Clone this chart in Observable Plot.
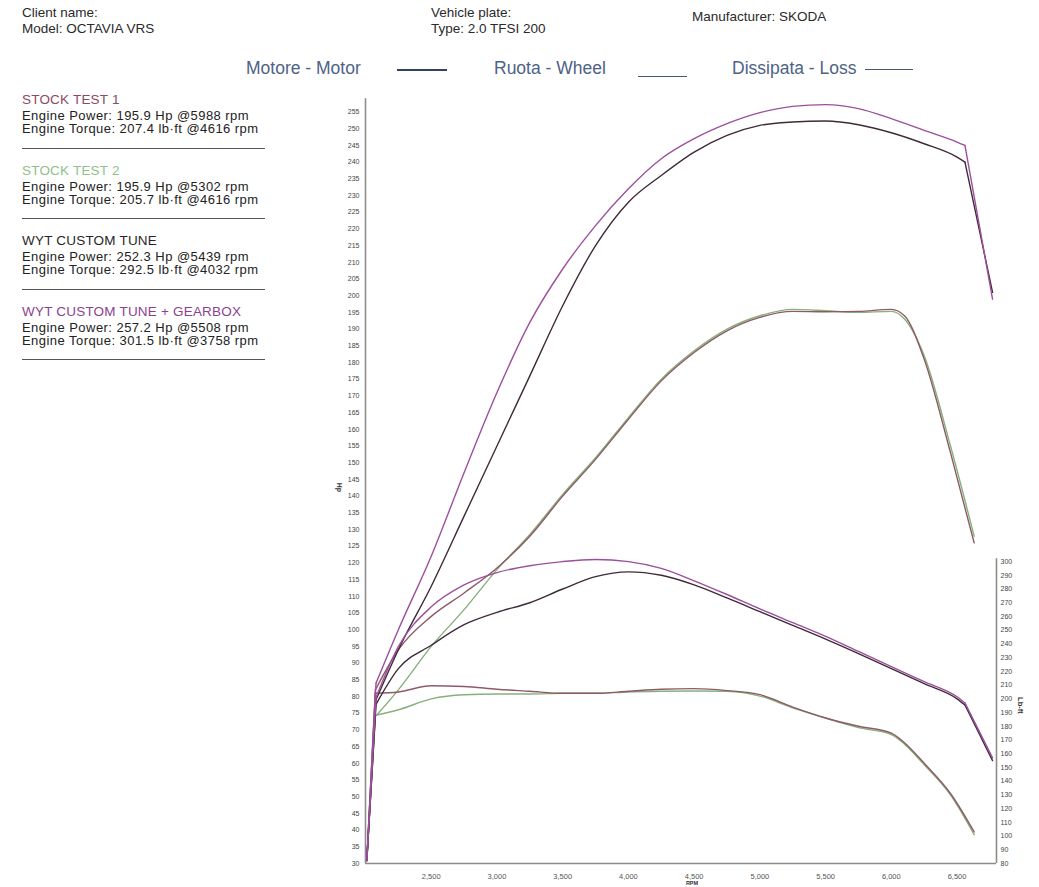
<!DOCTYPE html>
<html><head><meta charset="utf-8">
<script src="https://cdn.jsdelivr.net/npm/d3@7"></script>
<script src="https://cdn.jsdelivr.net/npm/@observablehq/plot@0.6"></script>
<style>
html,body{margin:0;padding:0;background:#fff;}
#page{position:relative;width:1039px;height:887px;overflow:hidden;font-family:"Liberation Sans",Arial,sans-serif;color:#222;background:#fff;}
.abs{position:absolute;white-space:nowrap;}
.hdr{font-size:13.5px;line-height:15.5px;color:#2a2a2a;}
.leg{font-size:17.5px;color:#4e6286;line-height:20px;}
.sample{position:absolute;height:0;}
.block{position:absolute;left:22px;width:243px;white-space:nowrap;}
.block .t{font-size:13.5px;line-height:18px;letter-spacing:0.2px;}
.block .l{font-size:13px;line-height:13.4px;letter-spacing:0.45px;color:#222;}
.block .sep{border-top:1px solid #555;margin-top:12px;}
#chart{position:absolute;left:300px;top:88px;}
</style></head>
<body>
<div id="page">
  <div class="abs hdr" style="left:22px;top:5px">Client name:<br>Model: OCTAVIA VRS</div>
  <div class="abs hdr" style="left:431px;top:5px">Vehicle plate:<br>Type: 2.0 TFSI 200</div>
  <div class="abs hdr" style="left:692px;top:9px">Manufacturer: SKODA</div>

  <div class="abs leg" style="left:246px;top:58px">Motore - Motor</div>
  <div class="sample" style="left:397px;top:69px;width:50px;border-top:2.5px solid #34406a"></div>
  <div class="abs leg" style="left:494px;top:58px">Ruota - Wheel</div>
  <div class="sample" style="left:638px;top:76px;width:49px;border-top:1.5px solid #4a5576"></div>
  <div class="abs leg" style="left:732px;top:58px">Dissipata - Loss</div>
  <div class="sample" style="left:865px;top:69px;width:48px;border-top:1.5px solid #4a5576"></div>

  <div id="panel"></div>
  <div id="chart"></div>
</div>
<script>
// ---------- run summaries (left panel) ----------
const runNames = ["STOCK TEST 1", "STOCK TEST 2", "WYT CUSTOM TUNE", "WYT CUSTOM TUNE + GEARBOX"];
const runPowerText = ["195.9 Hp @5988 rpm", "195.9 Hp @5302 rpm", "252.3 Hp @5439 rpm", "257.2 Hp @5508 rpm"];
const runTorqueText = ["207.4 lb·ft @4616 rpm", "205.7 lb·ft @4616 rpm", "292.5 lb·ft @4032 rpm", "301.5 lb·ft @3758 rpm"];
const runTitleColors = ["#8a4a62", "#8fbf8a", "#2b1f28", "#8b3f8f"];
const runLineColors = ["#8e5a66", "#86b17c", "#3f2a3a", "#9c4f9c"];

// ---------- axes ----------
const rpmTicks = [2500, 3000, 3500, 4000, 4500, 5000, 5500, 6000, 6500];
const hpTicks = [30,35,40,45,50,55,60,65,70,75,80,85,90,95,100,105,110,115,120,125,130,135,140,145,150,155,160,165,170,175,180,185,190,195,200,205,210,215,220,225,230,235,240,245,250,255];
const lbftTicks = [80,90,100,110,120,130,140,150,160,170,180,190,200,210,220,230,240,250,260,270,280,290,300];

// ---------- curves ----------
const rpmTuned = [2010, 2080, 2250, 2500, 2750, 3000, 3250, 3500, 3750, 4000, 4250, 4500, 4750, 5000, 5250, 5500, 5750, 6000, 6250, 6500, 6560, 6770];
const powerGearbox = [31, 84, 100, 122, 147, 171, 192, 208, 221, 232, 241, 247, 251.5, 254.8, 256.7, 257.2, 256, 253, 249.5, 246, 245, 199];
const powerTune    = [31, 79, 94, 113, 134, 155, 176, 197, 215, 228, 236, 243, 248, 251, 252, 252.3, 251.2, 248.8, 245.5, 241.5, 240, 201];
const torqueGearbox = [82, 201, 238, 267, 283, 292, 297, 300, 301.5, 300, 295, 286, 276, 265.5, 255.5, 245.5, 234.5, 223.5, 212.5, 201.5, 197, 157];
const torqueTune    = [82, 196, 222, 239, 254, 263, 270, 280, 289, 292.5, 290, 283, 273.5, 263.5, 253.5, 243.5, 233, 222, 211, 200, 195.5, 155];

const rpmStock = [2010, 2075, 2250, 2500, 2750, 3000, 3250, 3500, 3750, 4000, 4250, 4500, 4750, 5000, 5250, 5500, 5750, 6000, 6100, 6250, 6450, 6630];
const powerStock1 = [31, 82, 94, 104, 111, 118.5, 128, 140, 151, 163, 174.5, 183, 189.5, 193.5, 195.3, 195.2, 195.3, 195.9, 194, 181, 153, 126];
const powerStock2 = [31, 74, 82, 95, 106, 118, 128.5, 140.5, 151.5, 163.5, 175, 183.5, 190, 194, 195.9, 195.5, 195, 195.3, 193, 182, 155, 128];
const torqueStock1 = [82, 204, 205, 209.5, 209, 207, 205.5, 204, 204, 205.5, 207, 207.4, 206, 203, 194, 186, 180, 175, 168, 153, 131, 103];
const torqueStock2 = [82, 188, 192, 200, 203, 203.5, 203.5, 204, 204, 205, 205.5, 205.7, 205.5, 202, 193.5, 186, 179, 174, 167, 152, 130, 101];

// ---------- left panel ----------
const panel = document.getElementById("panel");
const blockTops = [91, 161.5, 232, 302.5];
runNames.forEach((name, i) => {
  const b = document.createElement("div");
  b.className = "block";
  b.style.top = blockTops[i] + "px";
  b.innerHTML = `<div class="t" style="color:${runTitleColors[i]}">${name}</div>
    <div class="l">Engine Power: ${runPowerText[i]}</div>
    <div class="l">Engine Torque: ${runTorqueText[i]}</div>
    <div class="sep"></div>`;
  panel.appendChild(b);
});

// ---------- dual axis mapping (lb-ft drawn on the Hp scale) ----------
const HP_PER_LBFT = (120.4 - 30) / (300 - 80);
const toHp = t => 30 + (t - 80) * HP_PER_LBFT;
const fromHp = h => 80 + (h - 30) / HP_PER_LBFT;
const table = (rpms, vals, conv) => rpms.map((r, i) => ({rpm: r, v: conv ? conv(vals[i]) : vals[i]}));

const series = [
  {data: table(rpmStock, torqueStock2, toHp), color: runLineColors[1], sharpEnd: false},
  {data: table(rpmStock, powerStock2), color: runLineColors[1], sharpEnd: false},
  {data: table(rpmStock, torqueStock1, toHp), color: runLineColors[0], sharpEnd: false},
  {data: table(rpmStock, powerStock1), color: runLineColors[0], sharpEnd: false},
  {data: table(rpmTuned, torqueTune, toHp), color: runLineColors[2], sharpEnd: true},
  {data: table(rpmTuned, powerTune), color: runLineColors[2], sharpEnd: true},
  {data: table(rpmTuned, torqueGearbox, toHp), color: runLineColors[3], sharpEnd: true},
  {data: table(rpmTuned, powerGearbox), color: runLineColors[3], sharpEnd: true}
];

// launch segment and (for tuned runs) the cut-off drop are straight; the rest is smoothed
function lineMarks(s) {
  const n = s.data.length;
  const opts = c => ({x: "rpm", y: "v", stroke: s.color, strokeWidth: 1.4, curve: c, strokeLinejoin: "round"});
  const marks = [Plot.line(s.data.slice(0, 2), opts("linear"))];
  if (s.sharpEnd) {
    marks.push(Plot.line(s.data.slice(1, n - 1), opts("monotone-x")));
    marks.push(Plot.line(s.data.slice(n - 2), opts("linear")));
  } else {
    marks.push(Plot.line(s.data.slice(1), opts("monotone-x")));
  }
  return marks;
}

const axisColor = "#8c8c8c";
const chart = Plot.plot({
  width: 739,
  height: 799,
  marginLeft: 65,
  marginRight: 43,
  marginTop: 13.5,
  marginBottom: 24,
  x: {domain: [2000, 6800], label: null},
  y: {domain: [30, 258], label: null},
  style: {fontFamily: "'Liberation Sans', Arial, sans-serif", fontSize: "7.5px", background: "transparent", color: "#444"},
  marks: [
    Plot.axisX(rpmTicks, {tickSize: 0, tickPadding: 10, tickFormat: d3.format(","), fontSize: 7.5, fill: "#555", label: null}),
    Plot.axisY(hpTicks, {anchor: "left", tickSize: 0, tickPadding: 6, fontSize: 7, fill: "#444", label: null}),
    Plot.axisY(lbftTicks.map(toHp), {anchor: "right", tickSize: 0, tickPadding: 4, fontSize: 7, fill: "#444", label: null,
      tickFormat: d => String(Math.round(fromHp(d)))}),
    Plot.ruleX([2000], {y1: 30, y2: 259, stroke: axisColor, strokeWidth: 1.6}),
    Plot.ruleX([6800], {y1: 30, y2: toHp(302), stroke: axisColor, strokeWidth: 1.6}),
    Plot.ruleY([30], {x1: 2000, x2: 6800, stroke: axisColor, strokeWidth: 1.6}),
    ...series.flatMap(lineMarks),
    Plot.text(["Hp"], {frameAnchor: "left", dx: -26, rotate: 90, fontSize: 7, fontWeight: "bold", fill: "#333"}),
    Plot.text(["Lb-ft"], {frameAnchor: "right", dx: 24, dy: 231, rotate: 90, fontSize: 7.5, fontWeight: "bold", fill: "#333"}),
    Plot.text(["RPM"], {frameAnchor: "bottom", dx: 11, dy: 21, fontSize: 5.5, fontWeight: "bold", fill: "#333"})
  ]
});
document.getElementById("chart").appendChild(chart);
</script>
</body></html>
